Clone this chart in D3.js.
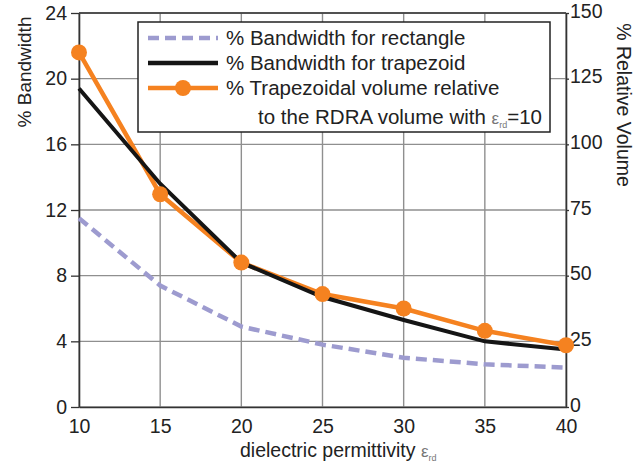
<!DOCTYPE html>
<html>
<head>
<meta charset="utf-8">
<script src="https://cdn.jsdelivr.net/npm/d3@7"></script>
<style>
  body { margin: 0; background: #fff; }
  text { font-family: "Liberation Sans", Arial, sans-serif; fill: #222; }
</style>
</head>
<body>
<svg id="chart" width="641" height="468"></svg>
<script>
// Data
var permittivity = [10, 15, 20, 25, 30, 35, 40];
var bwRectangle = [11.5, 7.4, 4.9, 3.8, 3.0, 2.6, 2.4];
var bwTrapezoid = [19.4, 13.6, 8.8, 6.7, 5.3, 4.0, 3.5];
var relVolume = [135, 81, 55, 43, 37.5, 29, 23.5];

var leftTicks = [0, 4, 8, 12, 16, 20, 24];
var rightTicks = [0, 25, 50, 75, 100, 125, 150];

var margin = {top: 13, right: 75, bottom: 61, left: 79};
var width = 641 - margin.left - margin.right;
var height = 468 - margin.top - margin.bottom;

var svg = d3.select('#chart');
var g = svg.append('g')
  .attr('transform', 'translate(' + margin.left + ',' + margin.top + ')');

var x = d3.scaleLinear().domain([10, 40]).range([0, width]);
var yL = d3.scaleLinear().domain([0, 24]).range([height, 0]);
var yR = d3.scaleLinear().domain([0, 150]).range([height, 0]);

// grid
g.selectAll('.vgrid').data(permittivity).enter().append('line')
  .attr('x1', function(d) { return x(d); }).attr('x2', function(d) { return x(d); })
  .attr('y1', 0).attr('y2', height)
  .style('stroke', '#8f8f8f').style('stroke-width', 1.4);
g.selectAll('.hgrid').data(leftTicks).enter().append('line')
  .attr('x1', 0).attr('x2', width)
  .attr('y1', function(d) { return yL(d); }).attr('y2', function(d) { return yL(d); })
  .style('stroke', '#8f8f8f').style('stroke-width', 1.4);

// axes
var axisLeft = d3.axisLeft(yL).tickValues(leftTicks).tickSize(8).tickSizeOuter(0);
var axisRight = d3.axisRight(yR).tickValues(rightTicks).tickSize(3).tickSizeOuter(0);
var axisBottom = d3.axisBottom(x).tickValues(permittivity).tickSize(0).tickSizeOuter(0);

function styleAxis(sel) {
  sel.select('.domain').style('stroke', '#333').style('stroke-width', 1.6);
  sel.selectAll('.tick line').style('stroke', '#333').style('stroke-width', 1.3);
  sel.selectAll('.tick text').style('font-size', '19.5px').style('fill', '#222')
    .style('font-family', '"Liberation Sans", Arial, sans-serif');
}

g.append('g').attr('transform', 'translate(0,' + height + ')').call(axisBottom)
  .call(styleAxis)
  .selectAll('.tick text').attr('y', 12).attr('dy', '0.71em');
g.append('g').call(axisLeft).call(styleAxis)
  .selectAll('.tick text').attr('x', -12);
g.append('g').attr('transform', 'translate(' + width + ',0)').call(axisRight).call(styleAxis)
  .selectAll('.tick text').attr('x', 4).attr('y', -2);
// top border
g.append('line').attr('x1', 0).attr('x2', width).attr('y1', 0).attr('y2', 0)
  .style('stroke', '#333').style('stroke-width', 1.6);

// lines
var lineRect = d3.line().x(function(d, i) { return x(permittivity[i]); }).y(function(d) { return yL(d); });
var lineVol = d3.line().x(function(d, i) { return x(permittivity[i]); }).y(function(d) { return yR(d); });

g.append('path').datum(bwRectangle).attr('d', lineRect)
  .style('fill', 'none').style('stroke', '#9d9bcf').style('stroke-width', 4.5)
  .style('stroke-dasharray', '11,6');
g.append('path').datum(relVolume).attr('d', lineVol)
  .style('fill', 'none').style('stroke', '#f58220').style('stroke-width', 4.5);
g.append('path').datum(bwTrapezoid).attr('d', lineRect)
  .style('fill', 'none').style('stroke', '#151515').style('stroke-width', 4);
g.selectAll('.dot').data(relVolume).enter().append('circle')
  .attr('cx', function(d, i) { return x(permittivity[i]); })
  .attr('cy', function(d) { return yR(d); })
  .attr('r', 8)
  .style('fill', '#f58220');

// axis titles
svg.append('text')
  .attr('transform', 'translate(31,72) rotate(-90)')
  .attr('text-anchor', 'middle').style('font-size', '19px')
  .text('% Bandwidth');
svg.append('text')
  .attr('transform', 'translate(617,105) rotate(90)')
  .attr('text-anchor', 'middle').style('font-size', '19.5px')
  .text('% Relative Volume');
var xt = svg.append('text')
  .attr('x', 240).attr('y', 457)
  .style('font-size', '19.5px');
xt.append('tspan').text('dielectric permittivity ');
xt.append('tspan').text('ε').style('fill', '#777').style('font-size', '17px');
xt.append('tspan').text('rd').attr('dy', 4).style('fill', '#777').style('font-size', '9px');

// legend
var lg = svg.append('g').attr('transform', 'translate(138,22)');
lg.append('rect').attr('width', 412).attr('height', 110)
  .style('fill', '#fff').style('stroke', '#222').style('stroke-width', 1.5);

var legendItems = [
  {label: '% Bandwidth for rectangle', color: '#9d9bcf', dash: '11,6', dot: false},
  {label: '% Bandwidth for trapezoid', color: '#151515', dash: null, dot: false},
  {label: '% Trapezoidal volume relative', color: '#f58220', dash: null, dot: true}
];
legendItems.forEach(function(d, i) {
  var yy = 16 + i * 25;
  lg.append('line').attr('x1', 10).attr('x2', 80).attr('y1', yy).attr('y2', yy)
    .style('stroke', d.color).style('stroke-width', 4.5)
    .style('stroke-dasharray', d.dash);
  if (d.dot) {
    lg.append('circle').attr('cx', 45).attr('cy', yy).attr('r', 8).style('fill', d.color);
  }
  lg.append('text').attr('x', 88).attr('y', yy + 7).style('font-size', '20.5px').text(d.label);
});
var l4 = lg.append('text').attr('x', 404).attr('y', 102).attr('text-anchor', 'end')
  .style('font-size', '20.5px');
l4.append('tspan').text('to the RDRA volume with ');
l4.append('tspan').text('ε').style('fill', '#777').style('font-size', '17px');
l4.append('tspan').text('rd').attr('dy', 4).style('fill', '#777').style('font-size', '9px');
l4.append('tspan').text('=10').attr('dy', -4);
</script>
</body>
</html>
